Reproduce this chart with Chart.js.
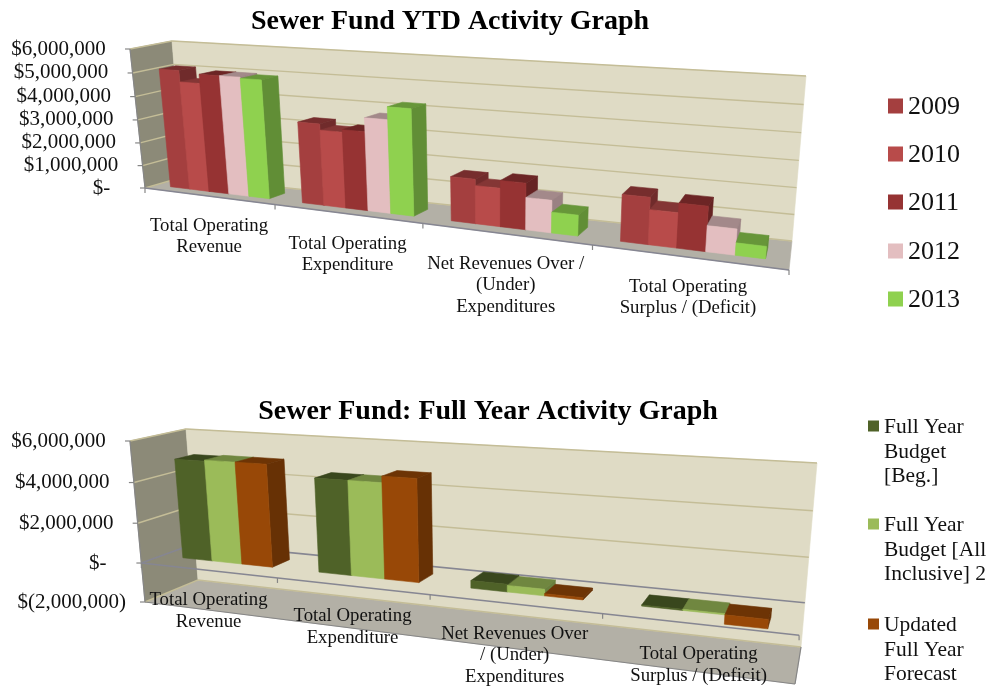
<!DOCTYPE html>
<html>
<head>
<meta charset="utf-8">
<title>Sewer Fund Activity Graphs</title>
<script src="https://cdn.jsdelivr.net/npm/chart.js@4/dist/chart.umd.min.js"></script>
<style>
  html, body { margin: 0; padding: 0; background: #fff; }
  #page { position: relative; width: 986px; height: 688px; overflow: hidden; }
  canvas { position: absolute; left: 0; }
  #ytdChart { top: 0; }
  #fullChart { top: 390px; }
</style>
</head>
<body>
<div id="page">
  <canvas id="ytdChart" width="986" height="390"></canvas>
  <canvas id="fullChart" width="986" height="298"></canvas>
</div>
<script>
const categories = [
  ['Total Operating', 'Revenue'],
  ['Total Operating', 'Expenditure'],
  ['Net Revenues Over /', '(Under)', 'Expenditures'],
  ['Total Operating', 'Surplus / (Deficit)']
];
const fullCategories = [
  ['Total Operating', 'Revenue'],
  ['Total Operating', 'Expenditure'],
  ['Net Revenues Over', '/ (Under)', 'Expenditures'],
  ['Total Operating', 'Surplus / (Deficit)']
];

const ytd2009 = [5100000, 3350000, 1750000, 1750000];
const ytd2010 = [4620000, 3100000, 1500000, 1300000];
const ytd2011 = [5000000, 3200000, 1800000, 1650000];
const ytd2012 = [5000000, 3750000, 1250000, 950000];
const ytd2013 = [4950000, 4250000, 800000, 450000];

const budgetBeg = [4950000, 4500000, 350000, 50000];
const budgetAll = [5000000, 4500000, 300000, 50000];
const forecast = [5000000, 4800000, 100000, -400000];

const ytdNames = ['2009', '2010', '2011', '2012', '2013'];
const fullNames = [
  ['Full Year', 'Budget', '[Beg.]'],
  ['Full Year', 'Budget [All', 'Inclusive] 2'],
  ['Updated', 'Full Year', 'Forecast']
];

// darken a hex colour for the top and side faces of a bar
function shade(hex, k) {
  const n = parseInt(hex.slice(1), 16);
  const c = [n >> 16, (n >> 8) & 255, n & 255].map(v => Math.round(v * k));
  return `rgb(${c[0]},${c[1]},${c[2]})`;
}

// maps the unit square on to a four corner quad (tl, tr, br, bl)
function quadMap(q) {
  const [p0, p1, p2, p3] = q;
  const dx1 = p1[0] - p2[0], dx2 = p3[0] - p2[0], sx = p0[0] - p1[0] + p2[0] - p3[0];
  const dy1 = p1[1] - p2[1], dy2 = p3[1] - p2[1], sy = p0[1] - p1[1] + p2[1] - p3[1];
  const det = dx1 * dy2 - dx2 * dy1;
  const g = (sx * dy2 - dx2 * sy) / det;
  const h = (dx1 * sy - sx * dy1) / det;
  const a = p1[0] - p0[0] + g * p1[0], b = p3[0] - p0[0] + h * p3[0];
  const d = p1[1] - p0[1] + g * p1[1], e = p3[1] - p0[1] + h * p3[1];
  return (u, v) => {
    const w = g * u + h * v + 1;
    return [(a * u + b * v + p0[0]) / w, (d * u + e * v + p0[1]) / w];
  };
}

function poly(ctx, pts, fill, stroke) {
  ctx.beginPath();
  pts.forEach((p, i) => i ? ctx.lineTo(p[0], p[1]) : ctx.moveTo(p[0], p[1]));
  ctx.closePath();
  ctx.fillStyle = fill;
  ctx.fill();
  ctx.strokeStyle = stroke || fill;
  ctx.lineWidth = 0.6;
  ctx.stroke();
}

function line(ctx, a, b, color, width) {
  ctx.beginPath();
  ctx.moveTo(a[0], a[1]);
  ctx.lineTo(b[0], b[1]);
  ctx.strokeStyle = color;
  ctx.lineWidth = width;
  ctx.stroke();
}

const box3d = {
  id: 'box3d',
  beforeDatasetsDraw(chart, args, o) {
    const ctx = chart.ctx;
    const area = chart.chartArea;
    const xs = chart.scales.x, ys = chart.scales.y;
    const front = quadMap(o.front), back = quadMap(o.back);
    const project = (u, v, z) => {
      const f = front(u, v), b = back(u, v);
      return [f[0] + (b[0] - f[0]) * z, f[1] + (b[1] - f[1]) * z];
    };
    const uOf = px => (px - area.left) / area.width;
    const vOf = px => (px - area.top) / area.height;
    const zero = vOf(ys.getPixelForValue(0));
    const n = chart.data.labels.length;

    // walls and floor
    poly(ctx, [project(0, 1, 0), project(1, 1, 0), project(1, 1, 1), project(0, 1, 1)], '#B3B0A6');
    poly(ctx, [project(0, 0, 0), project(0, 0, 1), project(0, 1, 1), project(0, 1, 0)], '#8C8A78');
    poly(ctx, [project(0, 0, 1), project(1, 0, 1), project(1, 1, 1), project(0, 1, 1)], '#DFDBC5');

    // gridlines and value labels
    ctx.font = o.tickFont;
    ctx.textAlign = 'right';
    ctx.textBaseline = 'middle';
    ys.ticks.forEach(t => {
      const v = vOf(ys.getPixelForValue(t.value));
      const isZero = t.value === 0 && ys.min < 0;
      const col = isZero ? '#868692' : '#C4BD97';
      const w = isZero ? 1.6 : 1.4;
      line(ctx, project(0, v, 0), project(0, v, 1), col, w);
      line(ctx, project(0, v, 1), project(1, v, 1), col, w);
      const p = project(0, v, 0);
      line(ctx, p, [p[0] - 5, p[1]], '#868686', 1.2);
      ctx.fillStyle = '#111';
      ctx.fillText(t.label, p[0] - 19, p[1] + o.tickDy);
    });

    // value axis and category axis with tick marks
    line(ctx, project(0, 0, 0), project(0, 1, 0), '#868686', 1.2);
    line(ctx, project(0, zero, 0), project(1, zero, 0), '#868692', 1.6);
    if (ys.min < 0) line(ctx, project(0, 1, 0), project(1, 1, 0), '#868686', 1.2);
    if (ys.min < 0) line(ctx, project(1, 1, 0), project(1, 1, 1), '#868686', 1.2);
    for (let i = 0; i <= n; i++) {
      const p = project(i / n, zero, 0);
      line(ctx, p, [p[0], p[1] + 5], '#868686', 1.2);
    }

    // bars, left to right so each one covers the side of the last
    const [z0, z1] = o.depth;
    chart.data.labels.forEach((lab, i) => {
      chart.data.datasets.forEach((ds, d) => {
        const el = chart.getDatasetMeta(d).data[i];
        const col = ds.backgroundColor;
        const a = uOf(el.x - el.width / 2), b = uOf(el.x + el.width / 2);
        const top = vOf(Math.min(el.y, el.base)), bot = vOf(Math.max(el.y, el.base));
        poly(ctx, [project(a, top, z0), project(b, top, z0), project(b, top, z1), project(a, top, z1)], shade(col, 0.72));
        poly(ctx, [project(b, top, z0), project(b, bot, z0), project(b, bot, z1), project(b, top, z1)], shade(col, 0.68));
        poly(ctx, [project(a, top, z0), project(b, top, z0), project(b, bot, z0), project(a, bot, z0)], col);
      });
    });

    // category labels hang under the axis at each category centre
    ctx.font = o.labelFont;
    ctx.textAlign = 'center';
    ctx.fillStyle = '#111';
    chart.data.labels.forEach((lab, i) => {
      const p = project(uOf(xs.getPixelForValue(i)), zero, 0);
      lab.forEach((txt, k) => ctx.fillText(txt, p[0] + 1, p[1] + o.labelDy + k * o.labelStep));
    });

    // legend
    ctx.font = o.legendFont;
    ctx.textAlign = 'left';
    chart.data.datasets.forEach((ds, d) => {
      const y = o.legendY[d];
      const lines = [].concat(ds.label);
      ctx.fillStyle = ds.backgroundColor;
      ctx.fillRect(o.legendX, y - o.swatch / 2, o.swatch, o.swatch);
      ctx.fillStyle = '#111';
      lines.forEach((txt, k) => ctx.fillText(txt, o.legendX + o.swatch + o.legendGap, y + 1.5 + k * o.legendStep));
    });
    return false;
  }
};

function money(v) {
  if (v === 0) return '$-   ';
  const s = Math.abs(v).toLocaleString('en-US');
  return v < 0 ? `$(${s})` : `$${s} `;
}

function makeChart(id, labels, datasets, title, rightPad, min, step, box) {
  return new Chart(document.getElementById(id), {
    type: 'bar',
    data: { labels, datasets },
    plugins: [box3d],
    options: {
      responsive: false,
      animation: false,
      datasets: { bar: { categoryPercentage: box.catPct, barPercentage: 1 } },
      layout: { padding: { right: rightPad } },
      scales: {
        x: { display: false },
        y: { display: false, min, max: 6000000, ticks: { stepSize: step, callback: money } }
      },
      plugins: {
        legend: { display: false },
        tooltip: { enabled: false },
        title: {
          display: true,
          text: title,
          color: '#000',
          font: { family: '"Liberation Serif"', size: 28, weight: 'bold' },
          padding: { top: 5, bottom: 4 }
        },
        box3d: box
      }
    }
  });
}

makeChart('ytdChart', categories, [
  { label: ytdNames[0], data: ytd2009, backgroundColor: '#A43F3F' },
  { label: ytdNames[1], data: ytd2010, backgroundColor: '#B84B4A' },
  { label: ytdNames[2], data: ytd2011, backgroundColor: '#963333' },
  { label: ytdNames[3], data: ytd2012, backgroundColor: '#E3BEC0' },
  { label: ytdNames[4], data: ytd2013, backgroundColor: '#8FD14F' }
], 'Sewer Fund YTD Activity Graph', 86, 0, 1000000, {
  front: [[130, 49], [805, 89], [789, 270], [145, 188]],
  back: [[172, 41], [806, 76], [792, 241], [183, 177]],
  depth: [0.28, 0.68],
  catPct: 0.76,
  tickFont: '21px "Liberation Serif"', tickDy: 0,
  labelFont: '18.8px "Liberation Serif"', labelDy: 30, labelStep: 21.5,
  legendFont: '26px "Liberation Serif"', legendX: 888, legendY: [106, 154, 202, 251, 299],
  legendStep: 0, swatch: 15, legendGap: 5
});

makeChart('fullChart', fullCategories, [
  { label: fullNames[0], data: budgetBeg, backgroundColor: '#4F6228' },
  { label: fullNames[1], data: budgetAll, backgroundColor: '#9BBB59' },
  { label: fullNames[2], data: forecast, backgroundColor: '#984807' }
], 'Sewer Fund: Full Year Activity Graph', 10, -2000000, 2000000, {
  front: [[130, 51], [812, 91], [795, 294], [145, 212]],
  back: [[186, 39], [817, 73], [801, 257], [198, 190]],
  depth: [0.38, 0.73],
  catPct: 0.67,
  tickFont: '21px "Liberation Serif"', tickDy: 0,
  labelFont: '18.8px "Liberation Serif"', labelDy: 30, labelStep: 21.5,
  legendFont: '21.5px "Liberation Serif"', legendX: 868, legendY: [36, 134, 234],
  legendStep: 24.5, swatch: 11, legendGap: 5
});
</script>
</body>
</html>
